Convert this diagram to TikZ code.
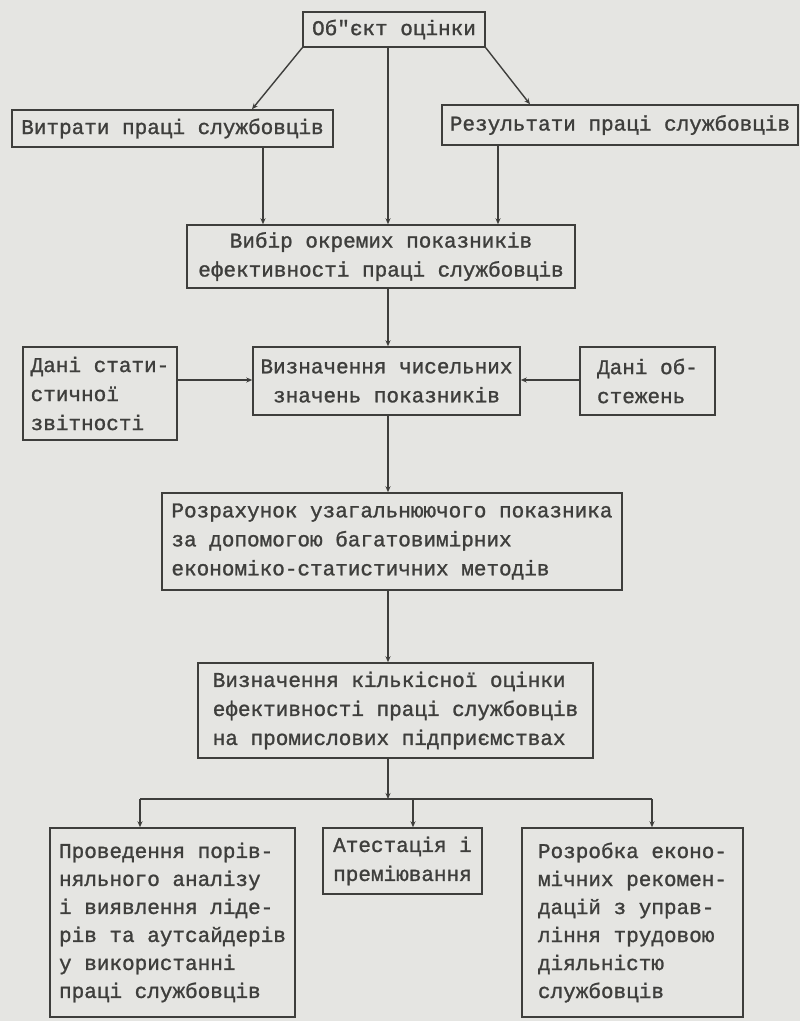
\documentclass[tikz,border=0pt]{standalone}
\usepackage{fontspec}
\setmainfont{Liberation Mono}[Ligatures=TeXOff,FakeBold=1.2]
\usetikzlibrary{arrows.meta}
\definecolor{ink}{RGB}{62,62,60}
\definecolor{paper}{RGB}{229,229,226}
\begin{document}
\begin{tikzpicture}[x=1pt,y=-1pt,
  box/.style={draw=ink, line width=1.5pt, text=ink, inner sep=0pt, align=left,
    font=\fontsize{21}{29}\selectfont},
  conn/.style={draw=ink, line width=1.4pt},
  arr/.style={conn, -{Stealth[length=6pt,width=5pt]}}]
\fill[paper] (0,0) rectangle (800,1021);
\useasboundingbox (0,0) rectangle (800,1021);
\node[box, minimum width=182pt, minimum height=35pt] (obj) at (394,29.5) {Об"єкт оцінки};
\node[box, minimum width=321pt, minimum height=37pt] (vytr) at (172.5,128.5) {Витрати праці службовців};
\node[box, minimum width=356pt, minimum height=40pt] (rez) at (620,125) {Результати праці службовців};
\node[box, align=center, minimum width=388pt, minimum height=63pt] (vybir) at (381,256.5) {Вибір окремих показників\\ефективності праці службовців};
\node[box, align=center, minimum width=267pt, minimum height=68pt] (vyzn) at (386.5,381) {Визначення чисельних\\значень показників};
\node[box, minimum width=154pt, minimum height=93pt] (stat) at (100,393.5) {Дані стати-\\стичної\\звітності};
\node[box, minimum width=135pt, minimum height=68pt] (obst) at (647.5,381) {Дані об-\\стежень};
\node[box, minimum width=460pt, minimum height=97pt] (rozr) at (392,541.5) {Розрахунок узагальнюючого показника\\за допомогою багатовимірних\\економіко-статистичних методів};
\node[box, minimum width=395pt, minimum height=95pt] (kilk) at (395.5,710.5) {Визначення кількісної оцінки\\ефективності праці службовців\\на промислових підприємствах};
\node[box, font=\fontsize{21}{28}\selectfont, minimum width=245pt, minimum height=189pt] (prov) at (172.5,922.5) {Проведення порів-\\няльного аналізу\\і виявлення ліде-\\рів та аутсайдерів\\у використанні\\праці службовців};
\node[box, minimum width=159pt, minimum height=66pt] (atest) at (402.5,861) {Атестація і\\преміювання};
\node[box, font=\fontsize{21}{28}\selectfont, minimum width=221pt, minimum height=189pt] (rozrob) at (632.5,922.5) {Розробка еконо-\\мічних рекомен-\\дацій з управ-\\ління трудовою\\діяльністю\\службовців};
\coordinate (cx) at (388,0);
\draw[arr] (obj.south west) -- ([xshift=79.5pt]vytr.north);
\draw[arr] (obj.south east) -- ([xshift=-90pt]rez.north);
\draw[arr] (obj.south -| cx) -- (vybir.north -| cx);
\coordinate (l1) at ([xshift=90.5pt]vytr.south);
\draw[arr] (l1) -- (l1 |- vybir.north);
\coordinate (r1) at ([xshift=-122pt]rez.south);
\draw[arr] (r1) -- (r1 |- vybir.north);
\draw[arr] (vybir.south -| cx) -- (vyzn.north -| cx);
\coordinate (hy) at (0,380);
\draw[arr] (stat.east |- hy) -- (vyzn.west |- hy);
\draw[arr] (obst.west |- hy) -- (vyzn.east |- hy);
\draw[arr] (vyzn.south -| cx) -- (rozr.north -| cx);
\draw[arr] (rozr.south -| cx) -- (kilk.north -| cx);
\coordinate (b1) at (140,799);
\coordinate (b2) at (413,799);
\coordinate (b3) at (652,799);
\draw[arr] (kilk.south -| cx) -- (b2 -| cx);
\draw[conn] (b1) -- (b3);
\draw[arr] (b1) -- (b1 |- prov.north);
\draw[arr] (b2) -- (b2 |- atest.north);
\draw[arr] (b3) -- (b3 |- rozrob.north);
\end{tikzpicture}
\end{document}
